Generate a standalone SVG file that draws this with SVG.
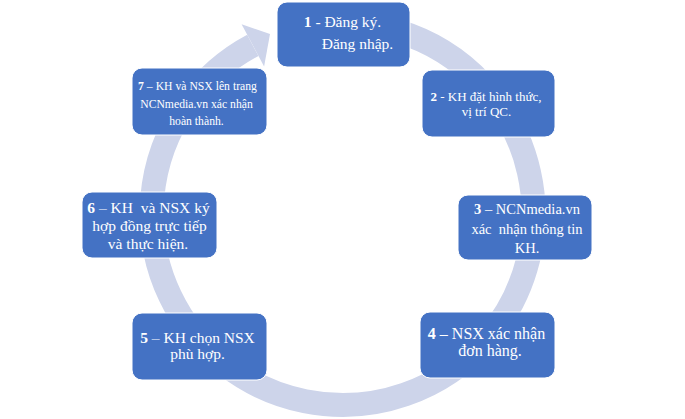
<svg xmlns="http://www.w3.org/2000/svg" width="685" height="419" viewBox="0 0 685 419">
<style>
.node rect{fill:#4472C4;stroke:#ffffff;stroke-width:1}
.node text{font-family:"Liberation Serif","Times New Roman",serif;fill:#ffffff;text-anchor:middle;white-space:pre}
.ring{fill:none;stroke:#CDD4EA;stroke-width:24}
.head{fill:#CDD4EA}
b,.b{font-weight:bold}
</style>
<rect width="685" height="419" fill="#ffffff"/>
<g id="connectors">
<path class="ring" d="M309.3,25.9 A191,191 0 1 1 252.8,45.4"/>
<polygon class="head" points="241.6,24.2 270,34 264.1,66.5"/>
</g>
<g id="node1" class="node">
<rect x="277" y="2" width="133" height="65" rx="10"/>
<text x="342.5" y="27" font-size="15.5"><tspan class="b">1</tspan> - Đăng ký.</text>
<text x="357.5" y="49" font-size="15.5">Đăng nhập.</text>
</g>
<g id="node2" class="node">
<rect x="422" y="70" width="133" height="67" rx="10"/>
<text x="486" y="101" font-size="13"><tspan class="b">2</tspan> - KH đặt hình thức,</text>
<text x="486.5" y="116" font-size="13">vị trí QC.</text>
</g>
<g id="node3" class="node">
<rect x="458" y="195" width="134" height="65" rx="10"/>
<text x="527" y="214" font-size="14.5"><tspan class="b">3</tspan> – NCNmedia.vn</text>
<text x="527" y="233.5" font-size="14.5">xác  nhận thông tin</text>
<text x="527" y="253" font-size="14.5">KH.</text>
</g>
<g id="node4" class="node">
<rect x="420" y="312" width="135" height="66" rx="10"/>
<text x="486.5" y="338.5" font-size="16"><tspan class="b">4</tspan> – NSX xác nhận</text>
<text x="490" y="356" font-size="16">đơn hàng.</text>
</g>
<g id="node5" class="node">
<rect x="132" y="313" width="135" height="67" rx="10"/>
<text x="197.5" y="342.5" font-size="15.5"><tspan class="b">5</tspan> – KH chọn NSX</text>
<text x="197.5" y="358.5" font-size="15.5">phù hợp.</text>
</g>
<g id="node6" class="node">
<rect x="82" y="192" width="135" height="66" rx="10"/>
<text x="148.5" y="212.5" font-size="15.5"><tspan class="b">6</tspan> – KH  và NSX ký</text>
<text x="149.5" y="231" font-size="15.5">hợp đồng trực tiếp</text>
<text x="148" y="249" font-size="15.5">và thực hiện.</text>
</g>
<g id="node7" class="node">
<rect x="132" y="68" width="135" height="67" rx="10"/>
<text x="197.5" y="90" font-size="11.7"><tspan class="b">7</tspan> – KH và NSX lên trang</text>
<text x="196.5" y="108" font-size="11.7">NCNmedia.vn xác nhận</text>
<text x="196.5" y="125" font-size="11.7">hoàn thành.</text>
</g>
</svg>
